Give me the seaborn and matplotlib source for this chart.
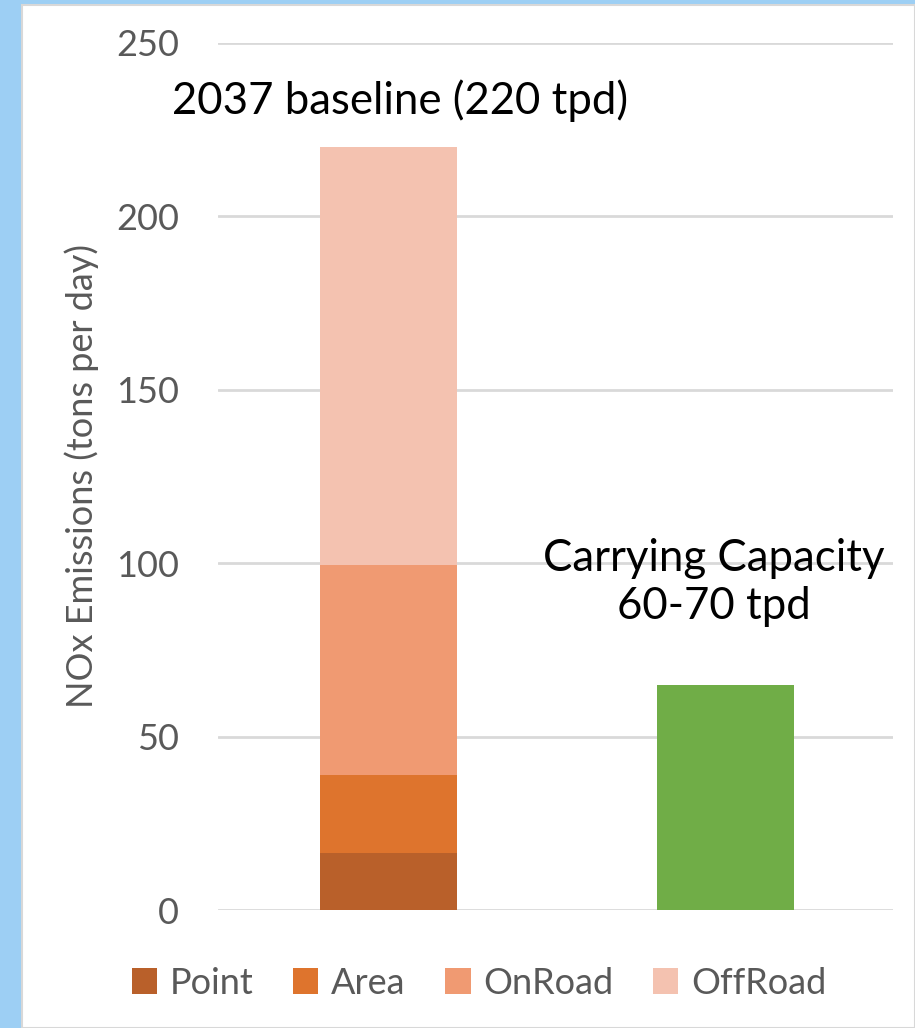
import matplotlib
matplotlib.use("Agg")
import matplotlib.pyplot as plt
import seaborn as sns
import pandas as pd
from matplotlib.patches import Patch, Rectangle

# ---- data ----
categories = ["2037 baseline", "Carrying Capacity"]
sources = ["Point", "Area", "OnRoad", "OffRoad"]
baseline_values = [16.5, 22.5, 60.5, 120.5]
capacity_value = [65]
source_colors = ["#B9602A", "#DE742D", "#F09A72", "#F4C2B0"]
capacity_color = "#70AD47"
yticks = [0, 50, 100, 150, 200, 250]

sns.set_theme(style="white")
plt.rcParams["font.family"] = ["Lato", "DejaVu Sans"]

fig = plt.figure(figsize=(9.15, 10.28), dpi=100)
fig.patch.set_facecolor("#9DCFF4")
fig.patches.append(Rectangle((22 / 915, 0), 1 - 22 / 915, 1 - 5 / 1028,
                             transform=fig.transFigure, facecolor="white",
                             edgecolor="#D8D8D8", linewidth=1.5, zorder=-10))

ax = fig.add_axes([218 / 915, 1 - 910 / 1028, 675 / 915, 867 / 1028])
ax.set_facecolor("none")

# stacked bars: draw cumulative totals from top down
cum = []
s = 0
for v in baseline_values:
    s += v
    cum.append(s)
for name, total, col in reversed(list(zip(sources, cum, source_colors))):
    d = pd.DataFrame({"cat": [categories[0]], "val": [total]})
    sns.barplot(data=d, x="cat", y="val", order=categories, color=col,
                width=0.406, saturation=1, ax=ax, zorder=3, linewidth=0)
d = pd.DataFrame({"cat": [categories[1]], "val": capacity_value})
sns.barplot(data=d, x="cat", y="val", order=categories, color=capacity_color,
            width=0.406, saturation=1, ax=ax, zorder=3, linewidth=0)

ax.set_xlim(-0.505, 1.495)
ax.set_ylim(0, 250)
ax.set_yticks(yticks)
ax.set_yticklabels([str(t) for t in yticks], fontsize=26, color="#595959")
ax.tick_params(axis="y", length=0, pad=28)
ax.set_xticks([])
ax.set_xlabel("")
ax.set_ylabel("NOx Emissions (tons per day)", fontsize=26, color="#595959", labelpad=12)
for sp in ax.spines.values():
    sp.set_visible(False)
ax.yaxis.grid(True, color="#D9D9D9", linewidth=2, zorder=0)
ax.set_axisbelow(True)

ax.text(0.034, 233.5, "2037 baseline (220 tpd)", ha="center", va="center",
        fontsize=31.5, color="black")
ax.text(0.964, 94.5, "Carrying Capacity\n60-70 tpd", ha="center", va="center",
        fontsize=31.5, color="black", linespacing=1.2)

handles = [Patch(facecolor=c, edgecolor="none", label=n) for n, c in zip(sources, source_colors)]
leg = fig.legend(handles=handles, loc="center", bbox_to_anchor=(479 / 915, 1 - 983 / 1028),
                 ncol=4, frameon=False, fontsize=26, handlelength=0.7, handleheight=0.7,
                 handletextpad=0.35, columnspacing=1.1)
for t in leg.get_texts():
    t.set_color("#595959")

fig.savefig("out.png", dpi=100)
